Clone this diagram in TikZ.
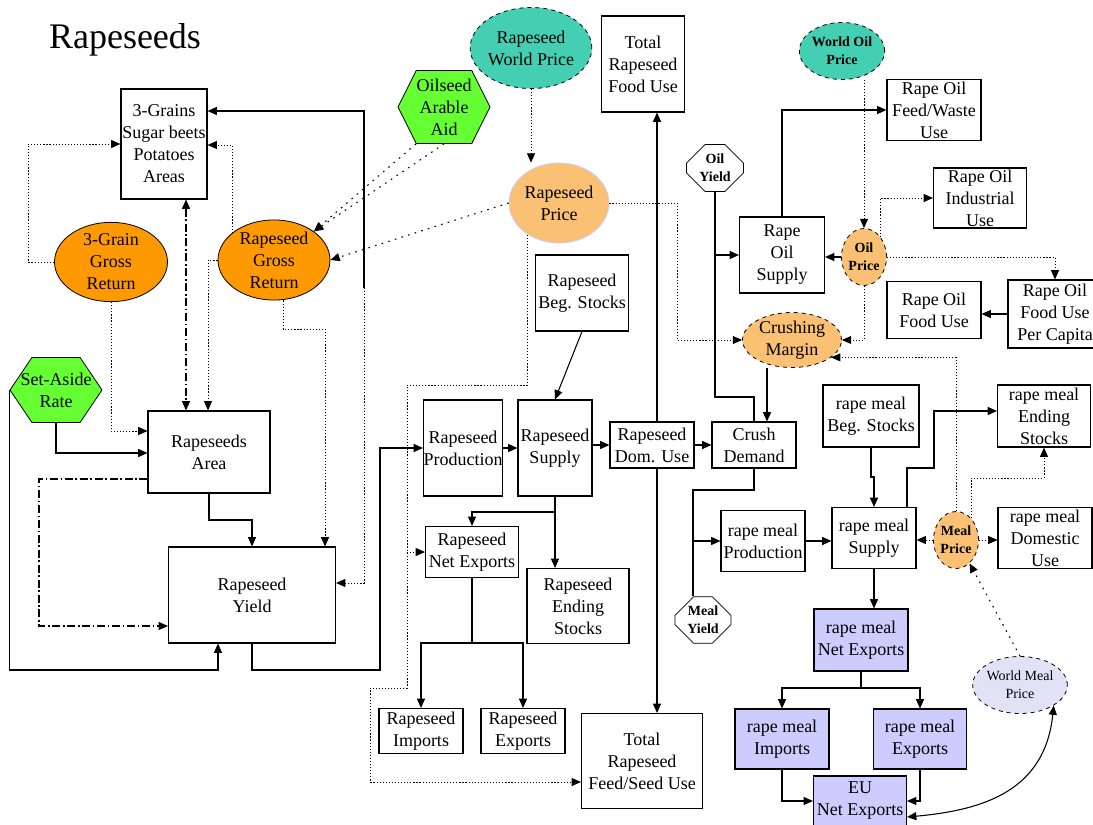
\documentclass[tikz,border=0pt]{standalone}
\usepackage{fontspec}
\setmainfont{Liberation Serif}
\usetikzlibrary{arrows.meta,shapes.geometric,shapes.misc,shapes.symbols}

\definecolor{grossorange}{RGB}{255,153,0}
\definecolor{priceorange}{RGB}{250,192,115}
\definecolor{worldteal}{RGB}{68,207,178}
\definecolor{policygreen}{RGB}{102,255,51}
\definecolor{mealblue}{RGB}{204,204,255}
\definecolor{mealpale}{RGB}{226,226,246}

\tikzset{
	bigfont/.style={font=\fontsize{13.5}{16.5}\selectfont},
	smallfont/.style={font=\fontsize{10.5}{13.5}\selectfont\bfseries},
	sz/.style 2 args={minimum width=#1*0.75pt, minimum height=#2*0.75pt},
	box/.style={draw, line width=0.8pt, align=center, inner sep=0pt, bigfont},
	mealbox/.style={box, fill=mealblue},
	gross/.style={ellipse, draw, line width=0.6pt, fill=grossorange, align=center, inner sep=0pt, bigfont},
	pricenode/.style={ellipse, draw, dashed, line width=0.6pt, fill=priceorange, align=center, inner sep=0pt, bigfont},
	world/.style={ellipse, draw, dashed, line width=0.6pt, fill=worldteal, align=center, inner sep=0pt, bigfont},
	policy/.style={signal, signal to=east and west, draw, line width=0.6pt, fill=policygreen, align=center, inner sep=0pt, bigfont},
	yieldnode/.style={chamfered rectangle, chamfered rectangle xsep=7pt, chamfered rectangle ysep=7pt, draw, line width=0.6pt, align=center, inner sep=0pt, smallfont},
	dotline/.style={line width=0.7pt, dash pattern=on 0.9pt off 1.4pt},
	looseline/.style={line width=0.8pt, dash pattern=on 1.2pt off 4pt},
	dashdot/.style={dash pattern=on 6pt off 2pt on 1.2pt off 2pt}
}

\begin{document}
\begin{tikzpicture}[x=0.75pt, y=-0.75pt, >={Triangle[length=7pt,width=6pt]}, line width=0.8pt]
		\useasboundingbox (0,0) rectangle (1093,825);
		\node[font=\fontsize{27}{30}\selectfont] (title) at (125,40) {Rapeseeds};
		% area and yield
		\node[box, sz={86}{110}] (grains) at (164,144) {3-Grains\\Sugar beets\\Potatoes\\Areas};
		\node[gross, sz={113}{77}] (grainret) at (111,262) {3-Grain\\Gross\\Return};
		\node[gross, sz={112}{80}] (rapret) at (274,260) {Rapeseed\\Gross\\Return};
		\node[policy, sz={92}{73}, signal pointer angle=127] (aid) at (444,107) {Oilseed\\Arable\\Aid};
		\node[policy, sz={92}{65}, signal pointer angle=112, inner xsep=-9pt] (setaside) at (56,390) {Set-Aside\\Rate};
		\node[box, sz={122}{82}] (area) at (209,452) {Rapeseeds\\Area};
		\node[box, sz={167}{96}] (yield) at (252,595) {Rapeseed\\Yield};
		% rapeseed balance
		\node[world, sz={101}{81}] (wprice) at (531,48) {Rapeseed\\World Price};
		\node[pricenode, draw=mealblue, solid, sz={100}{80}] (price) at (559,203) {Rapeseed\\Price};
		\node[box, sz={83}{96}] (foodtot) at (643,64) {Total\\Rapeseed\\Food Use};
		\node[box, sz={93}{76}] (begst) at (582,293) {Rapeseed\\Beg. Stocks};
		\node[box, sz={74}{96}] (prod) at (463,448) {Rapeseed\\Production};
		\node[box, sz={74}{96}] (supply) at (555,448) {Rapeseed\\Supply};
		\node[box, sz={84}{46}] (domuse) at (652,445) {Rapeseed\\Dom. Use};
		\node[box, sz={84}{46}] (crush) at (754,445) {Crush\\Demand};
		\node[box, sz={93}{51}] (netexp) at (472,552) {Rapeseed\\Net Exports};
		\node[box, sz={102}{75}] (endst) at (578,606) {Rapeseed\\Ending\\Stocks};
		\node[box, sz={84}{45}] (imp) at (421,731) {Rapeseed\\Imports};
		\node[box, sz={84}{45}] (exp) at (523,731) {Rapeseed\\Exports};
		\node[box, sz={121}{95}] (feedtot) at (642,761) {Total\\Rapeseed\\Feed/Seed Use};
		% rape oil
		\node[world, smallfont, sz={74}{57}] (woilprice) at (842,51) {World Oil\\Price};
		\node[box, sz={94}{61}] (oilfeed) at (934,110) {Rape Oil\\Feed/Waste\\Use};
		\node[yieldnode, sz={57}{47}] (oilyield) at (715,168) {Oil\\Yield};
		\node[box, sz={93}{60}] (oilind) at (980,198) {Rape Oil\\Industrial\\Use};
		\node[box, sz={85}{76}] (oilsup) at (782,255) {Rape\\Oil\\Supply};
		\node[pricenode, smallfont, sz={45}{57}] (oilprice) at (864,257) {Oil\\Price};
		\node[box, sz={94}{57}] (oilfood) at (934,310) {Rape Oil\\Food Use};
		\node[box, sz={94}{68}] (oilcap) at (1055,314) {Rape Oil\\Food Use\\Per Capita};
		\node[pricenode, sz={99}{55}] (margin) at (792,340) {Crushing\\Margin};
		% rape meal
		\node[yieldnode, sz={56}{46}] (mealyield) at (703,620) {Meal\\Yield};
		\node[box, sz={96}{62}] (mbeg) at (871,416) {rape meal\\Beg. Stocks};
		\node[box, sz={93}{62}] (mend) at (1044,416) {rape meal\\Ending\\Stocks};
		\node[box, sz={84}{61}] (mprod) at (763,541) {rape meal\\Production};
		\node[box, sz={84}{61}] (msup) at (874,538) {rape meal\\Supply};
		\node[pricenode, smallfont, sz={45}{57}] (mprice) at (956,540) {Meal\\Price};
		\node[box, sz={94}{61}] (mdom) at (1045,538) {rape meal\\Domestic\\Use};
		\node[mealbox, sz={94}{62}] (mnet) at (861,640) {rape meal\\Net Exports};
		\node[ellipse, draw, dashed, line width=0.6pt, fill=mealpale, align=center, inner sep=0pt, font=\fontsize{10.5}{13.5}\selectfont, sz={93}{57}] (wmeal) at (1020,685) {World Meal\\Price};
		\node[mealbox, sz={94}{60}] (mimp) at (782,739) {rape meal\\Imports};
		\node[mealbox, sz={93}{60}] (mexp) at (920,739) {rape meal\\Exports};
		\node[mealbox, sz={93}{50}] (eunet) at (860,801) {EU\\Net Exports};
		%
		\draw[->, dotline] (grainret.west) -- (28,262) |- (grains.west);
		\draw[->, dotline] (rapret.147) |- (grains.east |- 0,145);
		\draw[<->, dashdot] (grains.south -| 186,0) -- (area.north -| 186,0);
		\draw[->, dotline] (rapret.west) -| (area.north -| 208,0);
		\draw[->, dotline] (grainret.south) |- (area.west |- 0,431);
		\draw[->] (setaside.south) |- (area.west |- 0,453);
		\draw[->] (setaside.west) -- (setaside.west |- 0,670) -| (yield.south -| 218,0);
		\draw[->, dashdot] (area.west |- 0,479) -- (39,479) |- (yield.west |- 0,626);
		\draw[->] (area.south) -- (209,520) -| (yield.north);
		\draw[->, dotline] (rapret.south -| 283,0) |- (325,329) -- (yield.north -| 325,0);
		\draw[->, looseline] (aid.south west) -- (rapret.north east);
		\draw[->, looseline] (aid.south) -- (rapret.north east);
		\draw[->, looseline] (price.west) -- (rapret.east);
		\draw[->] (364,288) |- (grains.east |- 0,111);
		\draw[->, dotline] (364,288) |- (yield.east |- 0,583);
		\draw[->] (yield.south) -- (252,670) -- (380,670) |- (prod.west);
		%
		\draw[->, dotline] (wprice.south) -- (price.north -| wprice.south);
		\draw[->, dotline] (price.east) -- (677,203) |- (margin.west);
		\draw[->, dotline] (price.225) |- (407,385) -- (407,688) -| (370,782) -- (feedtot.west |- 0,782);
		\draw[->, dotline] (407,552) -- (netexp.west);
		\draw[->] (begst.south) -- (supply.north);
		\draw[->] (prod.east) -- (supply.west);
		\draw[->] (supply.east |- domuse.west) -- (domuse.west);
		\draw[->] (domuse.east) -- (crush.west);
		\coordinate (vx) at (657,0);
		\draw[->] (domuse.north -| vx) -- (foodtot.south -| vx);
		\draw[->] (domuse.south -| vx) -- (feedtot.north -| vx);
		\draw[->] (supply.south) -- (555,512) -| (netexp.north);
		\draw[->] (supply.south) -- (supply.south |- endst.north);
		\draw[->] (netexp.south) -- (472,643) -| (imp.north);
		\draw[->] (netexp.south) -- (472,643) -| (exp.north);
		%
		\draw (crush.north) |- (715,397) -- (oilyield.south);
		\draw[->] (715,255) -- (oilsup.west);
		\draw[->] (margin.south -| 767,0) -- (crush.north -| 767,0);
		\draw[->] (oilsup.north) |- (oilfeed.west);
		\draw[->, dotline] (woilprice.south -| oilprice.north) -- (oilprice.north);
		\draw[->] (oilprice.west) -- (oilsup.east |- oilprice.west);
		\draw[->, dotline] (oilprice.50) |- (oilind.west);
		\draw[->, dotline] (oilprice.east) -| (oilcap.north);
		\draw[->] (oilcap.west) -- (oilfood.east |- oilcap.west);
		\draw[->, dotline] (oilprice.south) |- (margin.east);
		%
		\draw[->, dotline] (mprice.north) |- (margin.336);
		\draw (crush.south) |- (693,490) -- (mealyield.north -| 693,0);
		\draw[->] (693,541) -- (mprod.west);
		\draw[->] (mprod.east) -- (msup.west |- mprod.east);
		\draw[->] (mbeg.south) |- (874,477) -- (msup.north);
		\draw[->] (msup.north -| 907,0) |- (934,468) |- (mend.west |- 0,411);
		\draw[->, dotline] (mprice.west) -- (msup.east |- mprice.west);
		\draw[->, dotline] (mprice.east) -- (mdom.west |- mprice.east);
		\draw[->, dotline] (mprice.55) |- (mend.south |- 0,478) -- (mend.south);
		\draw[->] (msup.south) -- (msup.south |- mnet.north);
		\draw[->, looseline] (wmeal.north) -- (mprice.-60);
		\draw[->] (mnet.south) -- (861,688) -| (mimp.north);
		\draw[->] (mnet.south) -- (861,688) -| (mexp.north);
		\draw[->] (mimp.south) |- (eunet.west);
		\draw[->] (mexp.south) |- (eunet.east);
		\draw[<->] (eunet.east |- 0,817) .. controls (985,810) and (1045,790) .. (wmeal.south east);
	%
	\end{tikzpicture}
\end{document}
